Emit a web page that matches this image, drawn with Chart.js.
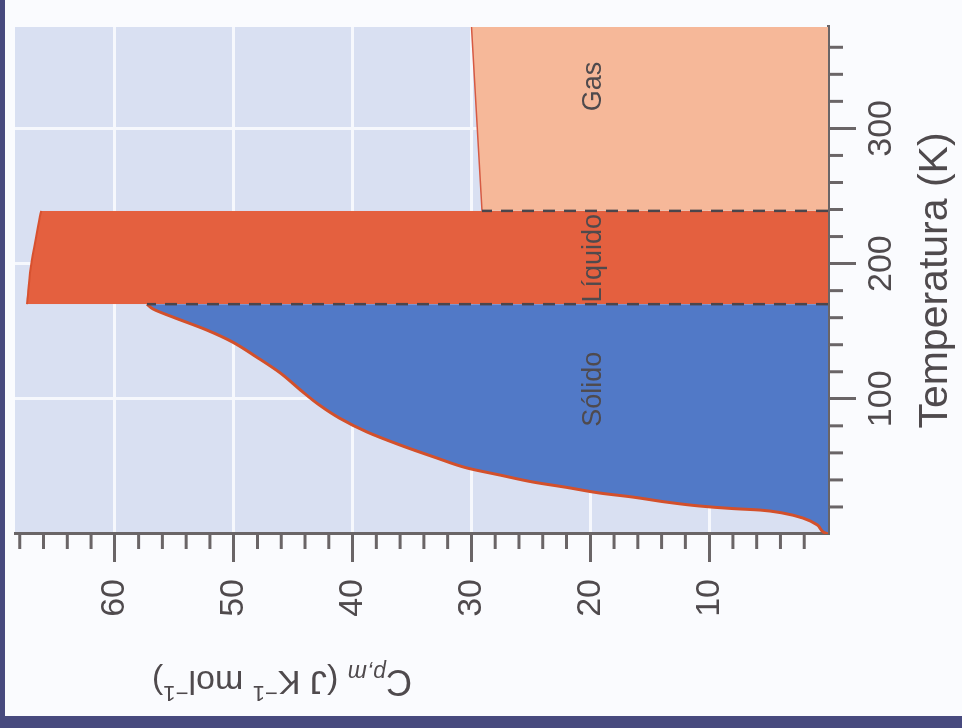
<!DOCTYPE html>
<html>
<head>
<meta charset="utf-8">
<title>Cp,m vs T</title>
<script src="https://cdn.jsdelivr.net/npm/chart.js@4.4.1/dist/chart.umd.min.js"></script>
<style>
  html, body { margin: 0; padding: 0; }
  body { width: 962px; height: 728px; background: #474a7e; overflow: hidden; position: relative; }
  /* the figure is printed turned a quarter turn, so the whole chart is rotated */
  #wrap { position: absolute; left: 5px; top: 716px; width: 716px; height: 957px;
          transform-origin: 0 0; transform: rotate(-90deg); background: #fafbfe; }
</style>
</head>
<body>
<div id="wrap"><canvas id="chart" width="716" height="957"></canvas></div>
<script>
// tick labels
var tempTicks = [100, 200, 300];
var cpTicks = [10, 20, 30, 40, 50, 60];
var tempStep = 20, cpStep = 2;

// solid: Cp,m along the curve
var solidT  = [0, 1.5, 6.7, 11.8, 15.5, 17.7, 18.8, 20.7, 23.6, 27.3, 30.3, 34.5, 38.4, 43.6, 48.9, 56.5, 65.8, 75.5, 85.7, 95.4, 106.6, 119.2, 131.0, 142.0, 151.0, 160.4, 166.5, 170];
var solidCp = [0, 0.4, 0.9, 2.1, 3.8, 5.7, 8.0, 10.8, 13.6, 16.4, 19.2, 22.0, 24.8, 27.6, 30.4, 33.0, 36.0, 38.8, 41.1, 42.8, 44.4, 46.1, 48.1, 50.1, 52.3, 55.1, 56.8, 57.3];

// liquid
var liquidT  = [170, 202, 239];
var liquidCp = [67.4, 67.0, 66.2];

// gas
var gasT  = [239, 375];
var gasCp = [29.1, 30.0];

// phase transitions
var meltT = 170, boilT = 239;

// phase names and where they sit (T, Cp)
var phaseNames = ['Sólido', 'Líquido', 'Gas'];
var phaseT  = [107, 204, 331];
var phaseCp = [19.7, 19.7, 19.7];

var axisColor = '#6a6567';
var textColor = '#4f4a4d';
var family = '"Liberation Sans", Arial, Helvetica, sans-serif';

function toPoints(xs, ys) {
    return xs.map(function (x, i) { return { x: x, y: ys[i] }; });
}

var bgPlugin = {
    id: 'plotBg',
    beforeDraw: function (chart) {
        var a = chart.chartArea, c = chart.ctx;
        c.save();
        c.fillStyle = '#d9e0f2';
        c.fillRect(a.left, a.top, a.right - a.left, a.bottom - a.top);
        c.restore();
    }
};

var minorTicks = {
    id: 'minorTicks',
    afterDraw: function (chart) {
        var xs = chart.scales.x, ys = chart.scales.y, c = chart.ctx;
        c.save();
        c.strokeStyle = axisColor;
        c.lineWidth = 3;
        xs.ticks.forEach(function (t) {
            if (tempTicks.indexOf(t.value) >= 0) return;
            var px = xs.getPixelForValue(t.value);
            c.beginPath(); c.moveTo(px, xs.top); c.lineTo(px, xs.top + 15); c.stroke();
        });
        ys.ticks.forEach(function (t) {
            if (cpTicks.indexOf(t.value) >= 0) return;
            var py = ys.getPixelForValue(t.value);
            c.beginPath(); c.moveTo(ys.right, py); c.lineTo(ys.right - 15, py); c.stroke();
        });
        c.restore();
    }
};

var textPlugin = {
    id: 'texts',
    afterDraw: function (chart) {
        var xs = chart.scales.x, ys = chart.scales.y, c = chart.ctx;
        c.save();
        c.fillStyle = textColor;
        c.textAlign = 'center';
        c.textBaseline = 'middle';
        c.font = '27px ' + family;
        phaseNames.forEach(function (n, i) {
            c.fillText(n, xs.getPixelForValue(phaseT[i]), ys.getPixelForValue(phaseCp[i]));
        });

        // y title with sub- and superscripts
        var parts = [
            { t: 'C', f: '36px ' + family, dy: 0 },
            { t: 'p,m', f: 'italic 23px ' + family, dy: 9 },
            { t: ' (J K', f: '34px ' + family, dy: 0 },
            { t: '\u22121', f: '22px ' + family, dy: -12 },
            { t: ' mol', f: '34px ' + family, dy: 0 },
            { t: '\u22121', f: '22px ' + family, dy: -12 },
            { t: ')', f: '34px ' + family, dy: 0 }
        ];
        var total = 0;
        parts.forEach(function (p) { c.font = p.f; p.w = c.measureText(p.t).width; total += p.w; });
        c.translate(36, 277);
        c.rotate(-Math.PI / 2);
        c.textAlign = 'left';
        var x = -total / 2;
        parts.forEach(function (p) { c.font = p.f; c.fillText(p.t, x, p.dy); x += p.w; });
        c.restore();
    }
};

function stepTicks(step) {
    return function (scale) {
        var out = [];
        for (var v = step; v < scale.max; v += step) out.push({ value: Math.round(v * 10) / 10 });
        scale.ticks = out;
    };
}

var ctx = document.getElementById('chart').getContext('2d');
new Chart(ctx, {
    type: 'scatter',
    data: {
        datasets: [
            { data: [{ x: meltT, y: 0 }, { x: meltT, y: solidCp[solidCp.length - 1] }],
              showLine: true, fill: false, borderColor: '#4b464c', borderWidth: 2.5, borderDash: [12, 9], pointRadius: 0, order: 0 },
            { data: [{ x: boilT, y: 0 }, { x: boilT, y: gasCp[0] }],
              showLine: true, fill: false, borderColor: '#4b464c', borderWidth: 2.5, borderDash: [12, 9], pointRadius: 0, order: 0 },
            { data: toPoints(gasT, gasCp), showLine: true, fill: 'origin',
              backgroundColor: '#f6b899', borderColor: '#d65a43', borderWidth: 1.5, pointRadius: 0, order: 1 },
            { data: toPoints(liquidT, liquidCp), showLine: true, fill: 'origin', tension: 0.3,
              backgroundColor: '#e4603f', borderColor: '#d8512f', borderWidth: 2, pointRadius: 0, order: 2 },
            { data: toPoints(solidT, solidCp), showLine: true, fill: 'origin', cubicInterpolationMode: 'monotone',
              backgroundColor: '#5179c7', borderColor: '#d3502b', borderWidth: 3, pointRadius: 0, order: 3 }
        ]
    },
    options: {
        responsive: false,
        animation: false,
        devicePixelRatio: 1,
        layout: { padding: { top: 10, right: 27, left: 0, bottom: 0 } },
        plugins: { legend: { display: false }, tooltip: { enabled: false } },
        scales: {
            x: {
                type: 'linear', position: 'bottom', min: 0, max: 375,
                afterFit: function (s) { s.height = 134; s.paddingLeft = 0; s.paddingRight = 0; },
                afterBuildTicks: stepTicks(tempStep),
                ticks: {
                    autoSkip: false, maxRotation: 0, minRotation: 0, padding: 5,
                    color: textColor, font: { family: family, size: 34 },
                    callback: function (v) { return tempTicks.indexOf(v) >= 0 ? String(v) : ''; }
                },
                grid: {
                    lineWidth: 3, tickLength: 28, tickWidth: 3,
                    color: function (c) { return c.tick && tempTicks.indexOf(c.tick.value) >= 0 ? '#f6f8fd' : 'rgba(0,0,0,0)'; },
                    tickColor: function (c) { return c.tick && tempTicks.indexOf(c.tick.value) >= 0 ? axisColor : 'rgba(0,0,0,0)'; }
                },
                border: { color: axisColor, width: 3 },
                title: { display: true, text: 'Temperatura (K)', color: textColor,
                         font: { family: family, size: 41 }, padding: { top: 0, bottom: 2 } }
            },
            y: {
                type: 'linear', position: 'left', min: 0, max: 68.4,
                afterFit: function (s) { s.width = 182; s.paddingTop = 0; s.paddingBottom = 0; },
                afterBuildTicks: stepTicks(cpStep),
                ticks: {
                    autoSkip: false, padding: 17,
                    color: textColor, font: { family: family, size: 34 },
                    callback: function (v) { return cpTicks.indexOf(v) >= 0 ? String(v) : ''; }
                },
                grid: {
                    lineWidth: 3, tickLength: 28, tickWidth: 3,
                    color: function (c) { return c.tick && cpTicks.indexOf(c.tick.value) >= 0 ? '#f6f8fd' : 'rgba(0,0,0,0)'; },
                    tickColor: function (c) { return c.tick && cpTicks.indexOf(c.tick.value) >= 0 ? axisColor : 'rgba(0,0,0,0)'; }
                },
                border: { color: axisColor, width: 3 },
                title: { display: false }
            }
        }
    },
    plugins: [bgPlugin, minorTicks, textPlugin]
});
</script>
</body>
</html>
